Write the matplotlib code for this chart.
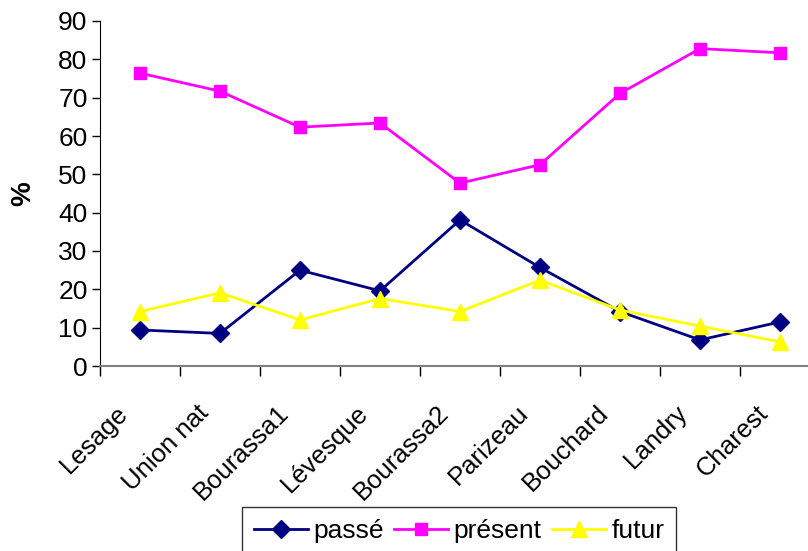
"""Line chart: passé / présent / futur (%) by leader."""

import matplotlib
matplotlib.use("Agg")
import matplotlib.pyplot as plt
import matplotlib.transforms as mtransforms
from matplotlib.ticker import FixedLocator, NullFormatter

plt.rcParams["font.family"] = ["Liberation Sans", "DejaVu Sans"]

categories = ["Lesage", "Union nat", "Bourassa1", "Lévesque", "Bourassa2",
              "Parizeau", "Bouchard", "Landry", "Charest"]
passe = [9.4, 8.5, 25.0, 19.6, 38.1, 25.7, 14.2, 6.8, 11.5]
present = [76.4, 71.7, 62.3, 63.4, 47.7, 52.5, 71.1, 82.8, 81.7]
futur = [14.2, 19.1, 12.0, 17.6, 14.2, 22.4, 14.6, 10.4, 6.3]


def plot_chart(output_path: str = "out.png") -> None:
    fig = plt.figure(figsize=(8.08, 5.51), dpi=100)
    ax = fig.add_axes([100 / 808, 1 - 366 / 551, 720 / 808, 345 / 551])

    x = list(range(len(categories)))
    ax.plot(x, passe, color="#000080", lw=2, marker="D", ms=9, label="passé")
    ax.plot(x, present, color="#FF00FF", lw=2, marker="s", ms=9, label="présent")
    ax.plot(x, futur, color="#FFFF00", lw=2, marker="^", ms=11, label="futur")

    ax.set_xlim(-0.5, len(categories) - 0.5)
    ax.set_ylim(0, 90)
    ax.set_yticks(range(0, 91, 10))
    ax.tick_params(axis="y", labelsize=19, length=6, width=1, direction="out", pad=3)

    ax.set_xticks(x)
    ax.set_xticklabels(categories, rotation=45, ha="right", fontsize=18.5)
    ax.tick_params(axis="x", which="major", length=0, pad=25)
    # nudge the rotated labels a little to the left
    shift = mtransforms.ScaledTranslation(-7 / 100, 0, fig.dpi_scale_trans)
    for lbl in ax.get_xticklabels():
        lbl.set_transform(lbl.get_transform() + shift)
    ax.xaxis.set_minor_locator(FixedLocator([i - 0.5 for i in range(len(categories) + 1)]))
    ax.xaxis.set_minor_formatter(NullFormatter())
    ax.tick_params(axis="x", which="minor", length=7, width=1, direction="out")

    for side in ("top", "right"):
        ax.spines[side].set_visible(False)
    ax.spines["bottom"].set_color("#808080")
    ax.spines["bottom"].set_linewidth(1.5)
    ax.spines["left"].set_color("black")

    ax.set_ylabel("%", fontsize=20, fontweight="bold", labelpad=16)

    leg = fig.legend(loc="upper left", bbox_to_anchor=(242 / 808, 1 - 507 / 551),
                     ncol=3, fontsize=19, frameon=True, fancybox=False,
                     handlelength=2.05, handletextpad=0.2, columnspacing=0.4,
                     borderpad=0.45, borderaxespad=0)
    leg.get_frame().set_edgecolor("black")
    leg.get_frame().set_linewidth(1)

    fig.savefig(output_path, dpi=100)


if __name__ == "__main__":
    plot_chart()
